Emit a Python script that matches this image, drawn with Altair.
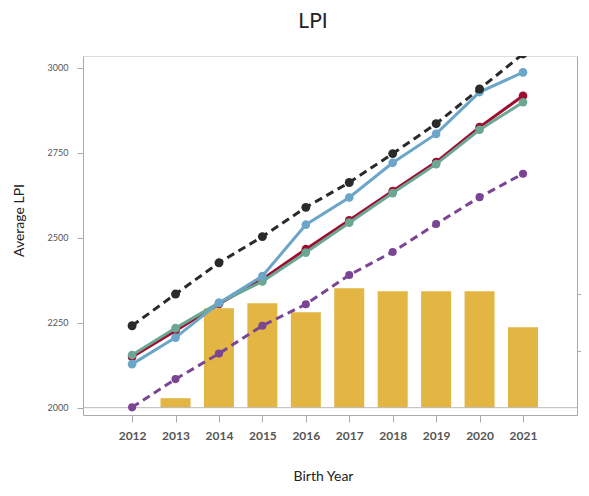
import altair as alt
import pandas as pd

years = [2012, 2013, 2014, 2015, 2016, 2017, 2018, 2019, 2020, 2021]
series_black = [2241, 2334, 2426, 2503, 2589, 2662, 2747, 2835, 2937, 3040]
series_blue = [2128, 2206, 2308, 2387, 2538, 2618, 2720, 2805, 2928, 2986]
series_red = [2149, 2226, 2305, 2378, 2466, 2551, 2637, 2722, 2825, 2917]
series_green = [2155, 2234, 2308, 2371, 2456, 2544, 2631, 2716, 2817, 2898]
series_purple = [2001, 2084, 2159, 2241, 2304, 2390, 2458, 2540, 2619, 2688]

bar_years = [2013, 2014, 2015, 2016, 2017, 2018, 2019, 2020, 2021]
bar_counts = [167, 1746, 1833, 1675, 2096, 2044, 2044, 2044, 1412]

y_ticks = [2000, 2250, 2500, 2750, 3000]
right_ticks = [1000, 2000]

FONT = "Lato"

x_enc = alt.X(
    "year:Q",
    scale=alt.Scale(domain=[2010.985, 2022.128], nice=False, zero=False),
    axis=alt.Axis(
        values=years, format="d", title="Birth Year",
        labelFontSize=12, labelColor="#555", labelFont=FONT, labelFontWeight="bold",
        tickSize=7, tickColor="#aaa", domainColor="#aaa", labelPadding=8,
        titleFont=FONT, titleFontSize=14, titleColor="#222", titleFontWeight="normal",
        titleX=240, titleY=54, titleBaseline="top", grid=False,
    ),
)

y_scale = alt.Scale(domain=[1978.5, 3034], nice=False, zero=False)
y_axis = alt.Axis(
    orient="left", values=y_ticks, format="d", title="Average LPI",
    labelFontSize=9, labelColor="#555", labelFont=FONT,
    tickSize=6, tickColor="#aaa", domainColor="#aaa", labelPadding=9,
    titleFont=FONT, titleFontSize=14, titleColor="#222", titleFontWeight="normal",
    titleX=-57, titleY=164, grid=False,
)

bars_df = pd.DataFrame({"year": bar_years, "count": bar_counts})
bars = alt.Chart(bars_df).mark_bar(size=30, color="#e3b542").encode(
    x=x_enc,
    y=alt.Y(
        "count:Q",
        scale=alt.Scale(domain=[-128, 6170], nice=False, zero=False),
        axis=alt.Axis(orient="right", values=right_ticks, labels=False, title=None,
                      tickSize=4, tickColor="#aaa", domainColor="#aaa", grid=False),
    ),
    y2=alt.datum(0),
)

rule = alt.Chart(pd.DataFrame({"v": [2000]})).mark_rule(color="#bbb", strokeWidth=1).encode(
    y=alt.Y("v:Q", scale=y_scale, axis=y_axis)
)

series = [
    ("red", series_red, "#9e0c2f", None, 75),
    ("green", series_green, "#6ba792", None, 75),
    ("blue", series_blue, "#6ba6c8", None, 75),
    ("black", series_black, "#2a2a2a", [8, 5], 80),
    ("purple", series_purple, "#7a4595", [8, 5], 65),
]

layers = [rule]
for name, vals, color, dash, size in series:
    df = pd.DataFrame({"year": years, "v": vals})
    line_kw = dict(color=color, strokeWidth=3, clip=True)
    if dash:
        line_kw["strokeDash"] = dash
    base = alt.Chart(df).encode(x=x_enc, y=alt.Y("v:Q", scale=y_scale, axis=y_axis))
    layers.append(base.mark_line(**line_kw))
    layers.append(base.mark_circle(color=color, size=size, opacity=1, clip=True))

lines = alt.layer(*layers)

chart = alt.layer(bars, lines).resolve_scale(y="independent").properties(
    width=494,
    height=359,
    autosize="none",
    padding={"left": 75, "top": 48, "right": 4, "bottom": 72},
    title=alt.TitleParams("LPI", fontSize=21, font=FONT, fontWeight="normal",
                          color="#222", offset=24, dx=-17, frame="group"),
).configure_view(stroke=None).configure(background="white")

chart.save("out.html", embed_options={"renderer": "svg", "actions": False})
